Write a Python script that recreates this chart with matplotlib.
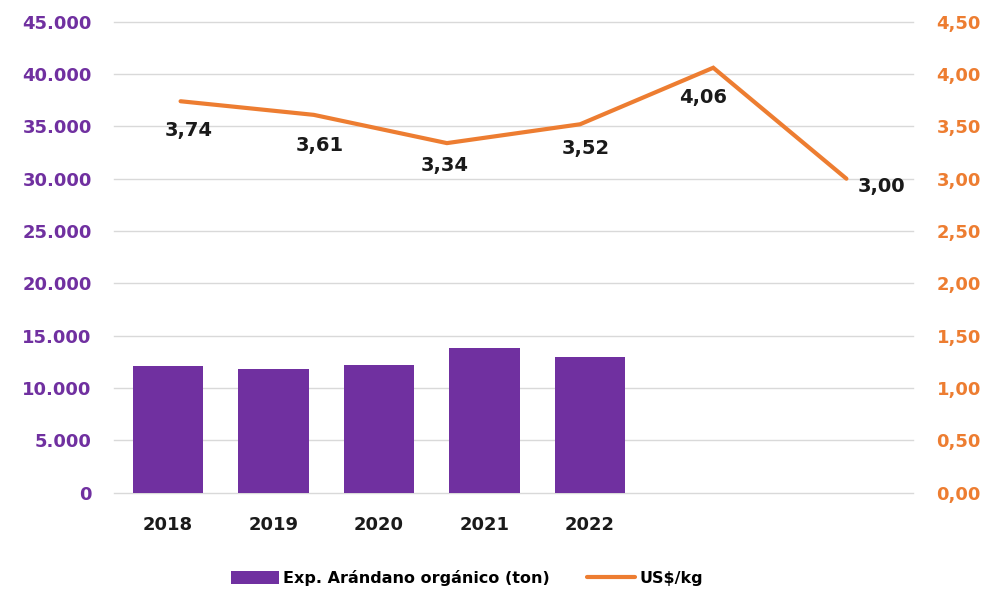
import matplotlib
matplotlib.use("Agg")
import matplotlib.pyplot as plt
from matplotlib.ticker import FuncFormatter

# ---- data ----
years = ["2018", "2019", "2020", "2021", "2022"]
export_ton = [12100, 11850, 12230, 13850, 12990]
price_points = ["2018", "2019", "2020", "2021", "2022", "2023"]
price_usd_kg = [3.74, 3.61, 3.34, 3.52, 4.06, 3.00]
price_labels = ["3,74", "3,61", "3,34", "3,52", "4,06", "3,00"]
left_ticks = [0, 5000, 10000, 15000, 20000, 25000, 30000, 35000, 40000, 45000]
right_ticks = [0, 0.5, 1.0, 1.5, 2.0, 2.5, 3.0, 3.5, 4.0, 4.5]

# label offsets in pixels (style)
label_offsets = [(8, -29), (6, -31), (-2, -22), (6, -24), (-10, -30), (35, -8)]

PURPLE = "#7030A0"
ORANGE = "#ED7D31"
GRID = "#D9D9D9"

fig = plt.figure(figsize=(10.02, 5.93), dpi=100)
pos = [114 / 1002, 100.3 / 593, 799 / 1002, 471 / 593]
ax = fig.add_axes(pos)

xb = list(range(len(years)))
bars = ax.bar(xb, export_ton, width=0.668, color=PURPLE, zorder=2,
              label="Exp. Arándano orgánico (ton)")
ax.set_xlim(-0.512, 7.06)
ax.set_ylim(0, 45000)
ax.set_yticks(left_ticks)
ax.yaxis.set_major_formatter(FuncFormatter(lambda v, p: f"{int(v):,}".replace(",", ".")))
ax.set_xticks(xb)
ax.set_xticklabels(years)
ax.grid(axis="y", color=GRID, linewidth=1.0, zorder=0)
ax.set_axisbelow(True)
for gl in ax.get_ygridlines():
    gl.set_clip_on(False)
for s in ax.spines.values():
    s.set_visible(False)
ax.tick_params(axis="both", length=0)
ax.tick_params(axis="y", pad=16, labelsize=13, labelcolor=PURPLE)
ax.tick_params(axis="x", pad=17, labelsize=13, labelcolor="#1a1a1a")
for t in ax.get_yticklabels() + ax.get_xticklabels():
    t.set_fontweight("bold")

ax2 = fig.add_axes(pos)
ax2.patch.set_visible(False)
xl = list(range(len(price_points)))
line, = ax2.plot(xl, price_usd_kg, color=ORANGE, linewidth=3.0,
                 solid_capstyle="round", solid_joinstyle="miter", label="US$/kg", zorder=3)
ax2.set_xlim(-0.5, len(price_points) - 0.5)
ax2.set_ylim(0, 4.5)
ax2.xaxis.set_visible(False)
ax2.yaxis.tick_right()
ax2.set_yticks(right_ticks)
ax2.yaxis.set_major_formatter(FuncFormatter(lambda v, p: f"{v:.2f}".replace(".", ",")))
for s in ax2.spines.values():
    s.set_visible(False)
ax2.tick_params(axis="y", length=0, pad=17, labelsize=13, labelcolor=ORANGE)
for t in ax2.get_yticklabels():
    t.set_fontweight("bold")

for x, y, lab, off in zip(xl, price_usd_kg, price_labels, label_offsets):
    ax2.annotate(lab, (x, y), xytext=off, textcoords="offset pixels",
                 ha="center", va="center", fontsize=14, fontweight="bold",
                 color="#1a1a1a")

fig.legend([bars, line], ["Exp. Arándano orgánico (ton)", "US$/kg"],
           loc="center", bbox_to_anchor=(467 / 1002, 15 / 593), ncol=2,
           frameon=False, prop={"size": 11.5, "weight": "bold"},
           handlelength=3.0, handleheight=0.9, handletextpad=0.3,
           columnspacing=2.3)

fig.savefig("out.png", dpi=100)
